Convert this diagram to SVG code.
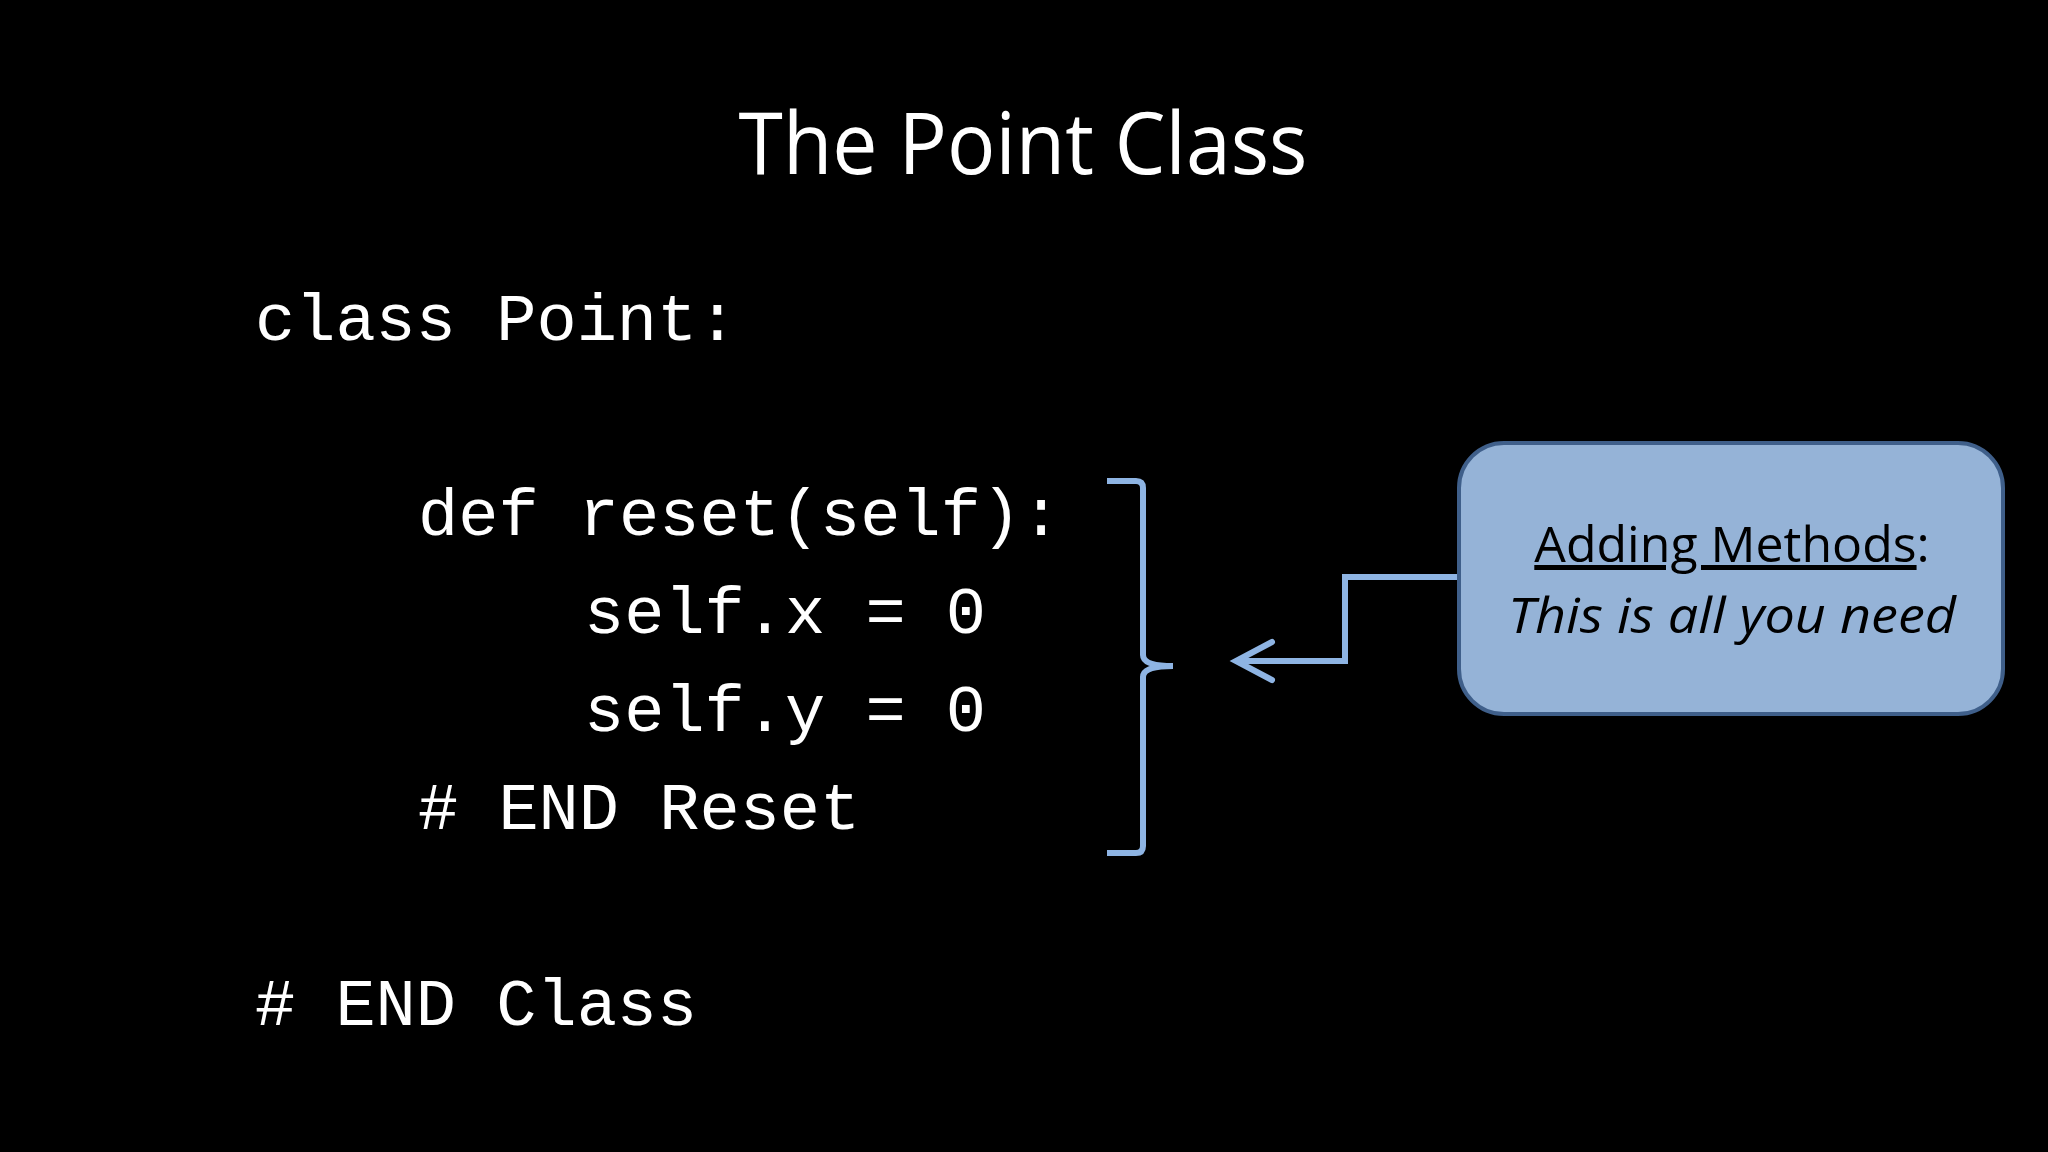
<svg xmlns="http://www.w3.org/2000/svg" width="2048" height="1152" viewBox="0 0 2048 1152">
<style>
.code{font-family:"Liberation Mono","Courier New",monospace;font-size:67px;fill:#fff}
.conn{fill:none;stroke:#8eb4e3;stroke-width:6}
.lbl{font-family:"Open Sans","Liberation Sans",sans-serif;font-size:50px;fill:#000}
</style>
<rect width="2048" height="1152" fill="#000"/>
<g id="title"><text x="1023" y="174" text-anchor="middle" font-family="Open Sans, Liberation Sans, sans-serif" font-size="86" fill="#fff" textLength="569" lengthAdjust="spacingAndGlyphs">The Point Class</text></g>
<g id="code">
<text class="code" x="255" y="340">class Point:</text>
<text class="code" x="418" y="535">def reset(self):</text>
<text class="code" x="584" y="633">self.x = 0</text>
<text class="code" x="584" y="731">self.y = 0</text>
<text class="code" x="418" y="829"># END Reset</text>
<text class="code" x="255" y="1025"># END Class</text>
</g>
<g id="connectors">
<path class="conn" d="M1107,481 H1136 Q1143,481 1143,488 V655 Q1143,666 1173,666 Q1143,666 1143,677 V846 Q1143,853 1136,853 H1107"/>
<path class="conn" d="M1459,577 H1345 V661 H1236"/>
<path class="conn" d="M1272,642 L1236,661 L1272,680" stroke-linecap="round"/>
</g>
<g id="callout">
<rect x="1459" y="443" width="544" height="271" rx="45" fill="#95b3d7" stroke="#3f5f8a" stroke-width="4"/>
<text class="lbl" x="1732" y="562" text-anchor="middle"><tspan text-decoration="underline">Adding Methods</tspan>:</text>
<text class="lbl" x="1732" y="633" text-anchor="middle" font-style="italic" textLength="448" lengthAdjust="spacingAndGlyphs">This is all you need</text>
</g>
</svg>
